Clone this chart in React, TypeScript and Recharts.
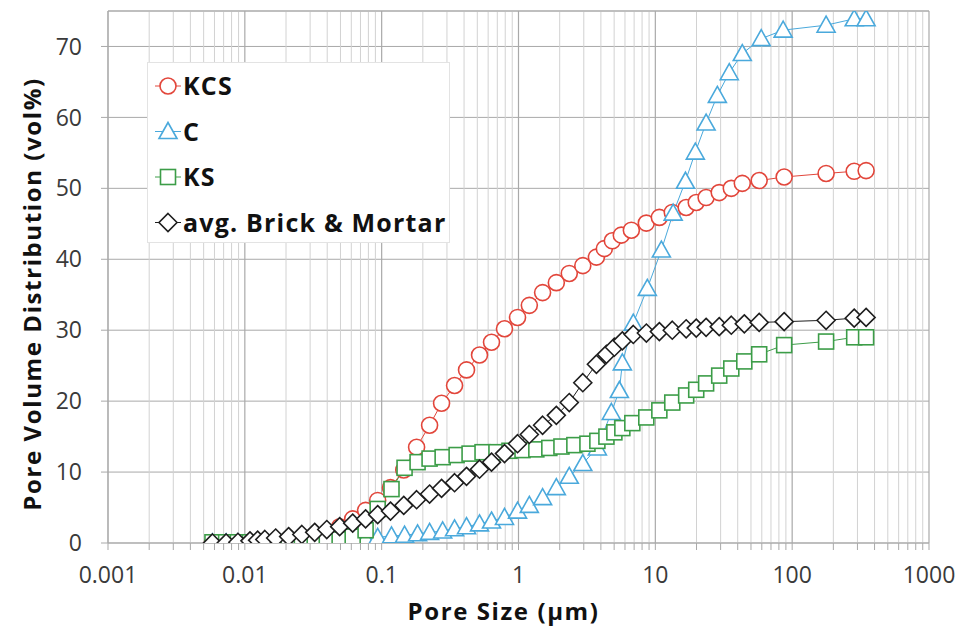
import React from "react";
import { LineChart, Line, XAxis, YAxis, CartesianGrid, ReferenceLine } from "recharts";

// pore size in µm, cumulative pore volume in vol%
const kcsSize = [0.0058, 0.0073, 0.0089, 0.0109, 0.0124, 0.014, 0.0168, 0.0209, 0.0261, 0.0324, 0.0397, 0.0493, 0.0614, 0.0763, 0.0935, 0.116, 0.145, 0.18, 0.224, 0.274, 0.341, 0.417, 0.519, 0.635, 0.79, 0.984, 1.2, 1.5, 1.89, 2.35, 2.95, 3.71, 4.24, 4.85, 5.64, 6.68, 8.59, 10.7, 13.3, 16.8, 19.9, 23.5, 29.3, 35.9, 43.2, 57.4, 87.4, 177, 284, 347];
const kcsVol = [0, 0, 0, 0, 0, 0, 0.1, 0.3, 0.6, 0.9, 1.5, 2.3, 3.4, 4.6, 6.0, 7.8, 10.3, 13.5, 16.6, 19.7, 22.2, 24.4, 26.5, 28.3, 30.2, 31.8, 33.5, 35.3, 36.7, 38.0, 39.1, 40.3, 41.5, 42.6, 43.4, 44.1, 45.1, 45.9, 46.6, 47.3, 48.0, 48.7, 49.4, 50.0, 50.7, 51.1, 51.6, 52.1, 52.4, 52.5];

const cSize = [0.0058, 0.0073, 0.0089, 0.0109, 0.0124, 0.014, 0.0168, 0.0209, 0.0261, 0.0324, 0.0397, 0.0493, 0.0614, 0.0763, 0.0935, 0.118, 0.147, 0.183, 0.224, 0.279, 0.341, 0.417, 0.519, 0.635, 0.79, 0.984, 1.2, 1.5, 1.89, 2.35, 2.95, 3.77, 4.77, 5.46, 5.74, 6.9, 8.74, 11.07, 13.5, 16.6, 19.6, 23.5, 28.4, 34.7, 43.2, 59.4, 85.9, 177, 284, 347];
const cVol = [0, 0, 0, 0, 0, 0, 0, 0, 0, 0, 0.1, 0.2, 0.4, 0.6, 0.8, 1.0, 1.1, 1.3, 1.5, 1.7, 2.0, 2.3, 2.7, 3.1, 3.6, 4.5, 5.3, 6.4, 7.8, 9.4, 11.2, 13.4, 18.4, 21.5, 25.4, 31.0, 35.9, 41.3, 46.5, 51.0, 55.1, 59.2, 63.1, 66.3, 69.0, 71.1, 72.3, 73.0, 73.9, 73.9];

const ksSize = [0.0058, 0.0073, 0.0089, 0.0109, 0.0124, 0.014, 0.0168, 0.0209, 0.0261, 0.0324, 0.0397, 0.0493, 0.0614, 0.0763, 0.0935, 0.118, 0.147, 0.183, 0.224, 0.279, 0.353, 0.439, 0.546, 0.69, 0.859, 1.07, 1.35, 1.68, 2.06, 2.56, 3.19, 3.77, 4.39, 5.02, 5.74, 6.79, 8.59, 10.7, 13.3, 16.8, 19.9, 23.5, 29.3, 35.9, 44.7, 57.4, 87.4, 177, 284, 347];
const ksVol = [0.1, 0.1, 0.1, 0.1, 0.1, 0.1, 0.1, 0.1, 0.2, 0.2, 0.3, 0.5, 0.9, 1.8, 4.8, 7.6, 10.6, 11.4, 11.9, 12.1, 12.4, 12.6, 12.8, 12.8, 13.0, 13.1, 13.2, 13.4, 13.6, 13.8, 14.0, 14.4, 15.0, 15.6, 16.2, 16.9, 17.7, 18.7, 19.8, 20.8, 21.6, 22.5, 23.6, 24.6, 25.6, 26.6, 27.9, 28.4, 29.0, 29.0];

const brickSize = [0.0058, 0.0073, 0.0089, 0.0109, 0.0124, 0.014, 0.0168, 0.0209, 0.0261, 0.0324, 0.0397, 0.0493, 0.0614, 0.0763, 0.0935, 0.116, 0.145, 0.18, 0.224, 0.274, 0.341, 0.417, 0.519, 0.635, 0.79, 0.984, 1.2, 1.5, 1.89, 2.35, 2.95, 3.71, 4.39, 5.02, 5.74, 6.9, 8.6, 10.7, 13.3, 16.8, 19.9, 23.5, 29.3, 35.9, 44.7, 57.4, 87.4, 177, 284, 347];
const brickVol = [0, 0, 0.1, 0.3, 0.4, 0.5, 0.7, 0.9, 1.2, 1.5, 1.9, 2.3, 2.8, 3.4, 4.0, 4.5, 5.3, 6.1, 6.9, 7.7, 8.5, 9.4, 10.4, 11.4, 12.6, 14.0, 15.3, 16.6, 18.0, 19.8, 22.6, 25.2, 26.6, 27.6, 28.5, 29.4, 29.6, 29.8, 30.0, 30.2, 30.3, 30.4, 30.5, 30.7, 30.9, 31.1, 31.2, 31.4, 31.7, 31.8];

const decades = [0.001, 0.01, 0.1, 1, 10, 100, 1000];
const yTicks = [0, 10, 20, 30, 40, 50, 60, 70];

const minorTicks = decades
  .slice(0, -1)
  .flatMap((d) => [2, 3, 4, 5, 6, 7, 8, 9].map((m) => Number((d * m).toPrecision(3))));
const allTicks = [...decades, ...minorTicks].sort((a, b) => a - b);

const FONT = "'Open Sans', sans-serif";

type Shape = "circle" | "triangle" | "square" | "diamond";

const series: { name: string; size: number[]; vol: number[]; color: string; shape: Shape }[] = [
  { name: "KCS", size: kcsSize, vol: kcsVol, color: "#e2463b", shape: "circle" },
  { name: "C", size: cSize, vol: cVol, color: "#4aa9dc", shape: "triangle" },
  { name: "KS", size: ksSize, vol: ksVol, color: "#3c9d48", shape: "square" },
  { name: "avg. Brick & Mortar", size: brickSize, vol: brickVol, color: "#1e1e1e", shape: "diamond" },
];

function Marker({ shape, cx, cy, color }: { shape: Shape; cx: number; cy: number; color: string }) {
  if (cx == null || cy == null || isNaN(cx) || isNaN(cy)) return null;
  const common = { fill: "#fff", stroke: color, strokeWidth: 1.6 };
  if (shape === "circle") return <circle cx={cx} cy={cy} r={8} {...common} />;
  if (shape === "triangle")
    return <polygon points={`${cx},${cy - 9} ${cx + 9},${cy + 7} ${cx - 9},${cy + 7}`} {...common} />;
  if (shape === "square") return <rect x={cx - 7.5} y={cy - 7.5} width={15} height={15} {...common} />;
  return <polygon points={`${cx},${cy - 9} ${cx + 9},${cy} ${cx},${cy + 9} ${cx - 9},${cy}`} {...common} />;
}

function LegendBox() {
  return (
    <svg
      width={304}
      height={182}
      style={{ position: "absolute", left: 147, top: 62 }}
    >
      <rect x={0.5} y={0.5} width={302} height={180} fill="#fff" stroke="#e3e3e3" />
      {series.map((s, i) => {
        const cy = 24 + i * 45.5;
        return (
          <g key={s.name}>
            <line x1={8} x2={34} y1={cy} y2={cy} stroke={s.color} strokeWidth={1} />
            <Marker shape={s.shape} cx={21} cy={cy} color={s.color} />
            <text
              x={36}
              y={cy + 9}
              fontFamily={FONT}
              fontWeight={700}
              fontSize={25}
              letterSpacing={1.2}
              fill="#111"
            >
              {s.name}
            </text>
          </g>
        );
      })}
    </svg>
  );
}

export default function App() {
  return (
    <div style={{ position: "absolute", left: 0, top: 0, width: 958, height: 629, background: "#fff" }}>
      <LineChart width={958} height={629} margin={{ top: 11, right: 29, bottom: 0, left: 38 }}>
        <CartesianGrid horizontal vertical={false} stroke="#a9a9a9" strokeWidth={1} />
        {minorTicks.map((v) => (
          <ReferenceLine key={`m${v}`} x={v} stroke="#d2d2d2" strokeWidth={1} />
        ))}
        {decades.map((v) => (
          <ReferenceLine key={`d${v}`} x={v} stroke="#a9a9a9" strokeWidth={1.2} />
        ))}
        <ReferenceLine y={75} stroke="#a9a9a9" strokeWidth={1.2} />
        <XAxis
          type="number"
          dataKey="x"
          scale="log"
          domain={[0.001, 1000]}
          allowDataOverflow
          ticks={allTicks}
          interval={0}
          tickFormatter={(v: number) => (decades.includes(v) ? String(v) : "")}
          tickSize={7}
          tickMargin={17}
          height={86}
          stroke="#a9a9a9"
          tick={{ fill: "#3a3a3a", fontSize: 23, fontFamily: FONT }}
          label={{
            content: (p: any) => {
              const vb = p.viewBox;
              return (
                <text
                  x={vb.x + vb.width / 2 - 15}
                  y={vb.y + 77}
                  textAnchor="middle"
                  fontFamily={FONT}
                  fontWeight={700}
                  fontSize={24}
                  letterSpacing={1.6}
                  fill="#111"
                >
                  Pore Size (µm)
                </text>
              );
            },
          }}
        />
        <YAxis
          type="number"
          domain={[0, 75]}
          allowDataOverflow
          ticks={yTicks}
          interval={0}
          width={70}
          tickSize={7}
          tickMargin={19}
          stroke="#a9a9a9"
          tick={{ fill: "#3a3a3a", fontSize: 23, fontFamily: FONT }}
          label={{
            content: (p: any) => {
              const vb = p.viewBox;
              const x = vb.x + 3;
              const y = vb.y + vb.height / 2 + 17;
              return (
                <text
                  x={x}
                  y={y}
                  transform={`rotate(-90, ${x}, ${y})`}
                  textAnchor="middle"
                  fontFamily={FONT}
                  fontWeight={700}
                  fontSize={24}
                  letterSpacing={1.6}
                  fill="#111"
                >
                  Pore Volume Distribution (vol%)
                </text>
              );
            },
          }}
        />
        {series.map((s) => (
          <Line
            key={s.name}
            data={s.size.map((x, i) => ({ x, y: s.vol[i] }))}
            dataKey="y"
            name={s.name}
            stroke={s.color}
            strokeWidth={1}
            isAnimationActive={false}
            activeDot={false}
            dot={(p: any) => (
              <Marker key={`${s.name}-${p.index}`} shape={s.shape} cx={p.cx} cy={p.cy} color={s.color} />
            )}
          />
        ))}
      </LineChart>
      <LegendBox />
    </div>
  );
}
